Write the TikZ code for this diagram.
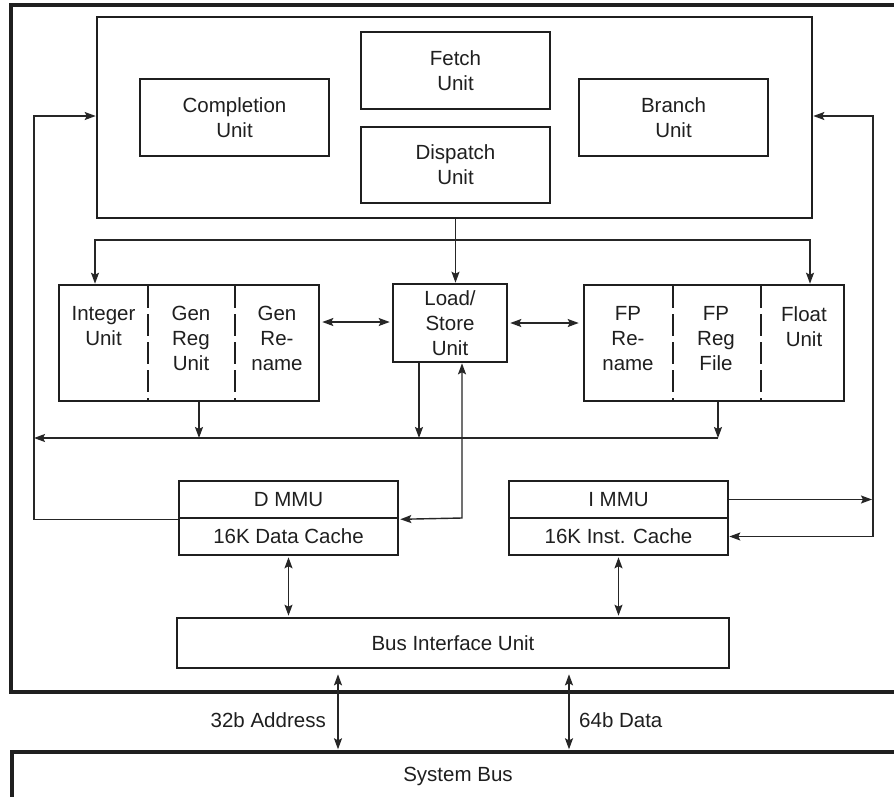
\documentclass[tikz,border=0pt]{standalone}
\usepackage{fontspec}
\setmainfont{Liberation Sans}
\usetikzlibrary{arrows.meta}
\begin{document}
\begin{tikzpicture}[x=1pt,y=-1pt,
  every node/.style={font=\fontsize{20.5}{25}\selectfont, text=black!88},
  box/.style={draw=black!88, line width=2.6pt, rectangle, inner sep=0pt, align=center},
  outerbox/.style={draw=black!88, line width=3.4pt, rectangle, inner sep=0pt},
  conn/.style={draw=black!85, line width=1.4pt},
  arr/.style={conn, -{Stealth[length=11pt,width=8pt,inset=2pt]}},
  darr/.style={conn, {Stealth[length=11pt,width=8pt,inset=2pt]}-{Stealth[length=11pt,width=8pt,inset=2pt]}},
  divider/.style={draw=black!88, line width=2.4pt, dash pattern=on 22pt off 6pt},
  lbl/.style={inner sep=0pt, align=center, anchor=north}
]
\useasboundingbox (0,0) rectangle (894,796);
\clip (0,0) rectangle (894,796);
\fill[white] (0,0) rectangle (894,796);

% outer boxes
\node[outerbox, minimum width=897pt, minimum height=687pt] (cpu) at (459.5,348.5) {};
\node[outerbox, minimum width=897pt, minimum height=100pt] (sysbus) at (460.5,802) {};
\node[inner sep=0pt] (sysbustxt) at (458,776) {System Bus};

% top instruction block
\node[box, minimum width=715pt, minimum height=201pt] (top) at (454.5,117.5) {};
\node[box, minimum width=189pt, minimum height=77pt] (fetch) at (455.5,70.5) {Fetch\\Unit};
\node[box, minimum width=189pt, minimum height=76pt] (dispatch) at (455.5,165) {Dispatch\\Unit};
\node[box, minimum width=189pt, minimum height=77pt] (completion) at (234.5,117.5) {Completion\\Unit};
\node[box, minimum width=189pt, minimum height=77pt] (branch) at (673.5,117.5) {Branch\\Unit};

% integer block
\node[box, minimum width=260pt, minimum height=116pt] (intblk) at (189,343) {};
\draw[divider] (148,286) -- (148,400);
\draw[divider] (235,286) -- (235,400);
\node[lbl] (intu) at (103.5,306) {Integer\\Unit};
\node[lbl] (genreg) at (191,306) {Gen\\Reg\\Unit};
\node[lbl] (genren) at (277,306) {Gen\\Re-\\name};

% load/store
\node[box, minimum width=114pt, minimum height=78pt] (lsu) at (450,323) {Load/\\Store\\Unit};

% FP block
\node[box, minimum width=260pt, minimum height=116pt] (fpblk) at (714,343) {};
\draw[divider] (673,286) -- (673,400);
\draw[divider] (761,286) -- (761,400);
\node[lbl] (fpren) at (628,306) {FP\\Re-\\name};
\node[lbl] (fpreg) at (716,306) {FP\\Reg\\File};
\node[lbl] (fpu) at (804,306) {Float\\Unit};

% MMUs and caches
\node[box, minimum width=219pt, minimum height=37pt] (dmmu) at (288.5,499.5) {D MMU};
\node[box, minimum width=219pt, minimum height=37pt] (dcache) at (288.5,536.5) {16K Data Cache};
\node[box, minimum width=219pt, minimum height=37pt] (immu) at (618.5,499.5) {I MMU};
\node[box, minimum width=219pt, minimum height=37pt] (icache) at (618.5,536.5) {16K Inst. Cache};

% bus interface unit
\node[box, minimum width=552pt, minimum height=50pt] (biu) at (453,643) {Bus Interface Unit};

% coordinates for connector routing
\coordinate (lft) at (34,116);
\coordinate (rgt) at (873,116);
\coordinate (dl) at (95,240);
\coordinate (dr) at (810,240);
\coordinate (rb) at (718,438);
\coordinate (lb) at (34,438);
\coordinate (lsd) at (462,518);
\coordinate (ad) at (338,0);
\coordinate (dd) at (569,0);

% left feedback: D MMU -> top block
\draw[arr] (dmmu.south west) -| (lft) -- (top.west |- lft);
% right feedback: I MMU / I cache / top block
\draw[arr] (immu.east) -- ([xshift=-1pt]rgt |- immu.east);
\draw[arr] (rgt |- icache.east) -- (icache.east);
\draw[arr] (rgt |- icache.east) -- (rgt) -- (top.east |- rgt);

% dispatch to units
\draw[arr] (dispatch.south |- top.south) -- (dispatch.south |- lsu.north);
\draw[darr] (dl |- intblk.north) -- (dl) -- (dr) -- (dr |- fpblk.north);

% int <-> lsu <-> fp
\draw[darr, shorten <=2pt, shorten >=2pt] (intblk.east |- 0,322) -- (lsu.west |- 0,322);
\draw[darr, shorten <=2pt, shorten >=4pt] (lsu.east) -- (fpblk.west |- lsu.east);

% result bus
\draw[arr] (rb) -- (lb);
\draw[arr] (199,0 |- intblk.south) -- (199,0 |- rb);
\draw[arr] (419,0 |- lsu.south) -- (419,0 |- rb);
\draw[arr] (rb |- fpblk.south) -- (rb);

% lsu <-> D cache
\draw[darr, shorten >=1pt] (lsd |- lsu.south) -- (lsd) -- (dmmu.south east);

% caches <-> BIU
\draw[darr, shorten <=1pt, shorten >=1pt] (dcache.south) -- (biu.north -| dcache.south);
\draw[darr, shorten <=1pt, shorten >=1pt] (icache.south) -- (biu.north -| icache.south);

% BIU <-> system bus
\draw[darr, shorten <=5pt, shorten >=1pt] (ad |- biu.south) -- (ad |- sysbus.north);
\draw[darr, shorten <=5pt, shorten >=1pt] (dd |- biu.south) -- (dd |- sysbus.north);
\node[inner sep=0pt, anchor=east] (addr) at (326,720) {32b Address};
\node[inner sep=0pt, anchor=west] (data) at (579,720) {64b Data};
\end{tikzpicture}
\end{document}
